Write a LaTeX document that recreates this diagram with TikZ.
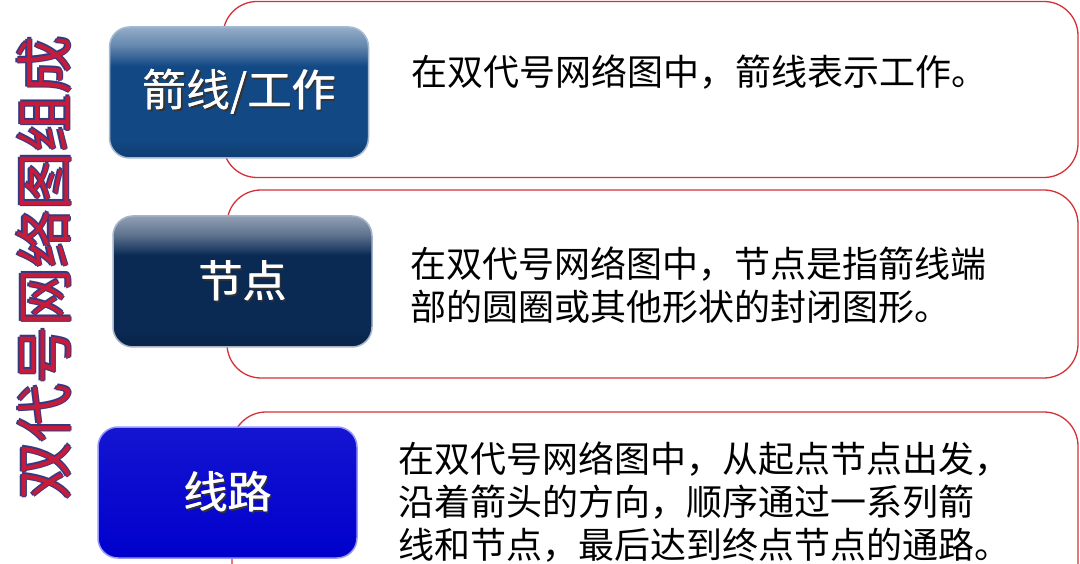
\documentclass[tikz,border=0pt]{standalone}
\usepackage{fontspec}
\usepackage{xcolor}
\usepackage{tikz}
\usetikzlibrary{positioning}

\newfontfamily\cjk{Noto Sans CJK SC}

\definecolor{navyA}{RGB}{18,72,132}
\definecolor{navyB}{RGB}{10,42,84}
\definecolor{blueC}{RGB}{0,0,205}
\definecolor{panelred}{RGB}{212,48,56}
\definecolor{ttlred}{RGB}{196,28,58}
\definecolor{ttlblue}{RGB}{52,58,130}

% glossy shadings for the buttons
\pgfdeclareverticalshading{glossA}{100bp}{color(0bp)=(navyA!85!black); color(25bp)=(navyA!85!black); color(32bp)=(navyA); color(60bp)=(navyA); color(68bp)=(navyA!65!white); color(75bp)=(navyA!45!white); color(100bp)=(navyA!45!white)}
\pgfdeclareverticalshading{glossB}{100bp}{color(0bp)=(navyB!85!black); color(25bp)=(navyB!85!black); color(32bp)=(navyB); color(60bp)=(navyB); color(68bp)=(navyB!65!white); color(75bp)=(navyB!45!white); color(100bp)=(navyB!45!white)}

\newcommand\btntxt[1]{\leavevmode\rlap{\hspace{2pt}\raisebox{-2pt}{\color{black!80}#1}}%
  \rlap{\hspace{.6pt}#1}#1}
\newcommand\ttltxt[1]{\leavevmode
  \rlap{\color{ttlblue}\hspace{-1.3pt}#1}\rlap{\color{ttlblue}\hspace{1.3pt}#1}%
  \rlap{\color{ttlblue}\raisebox{1.3pt}{#1}}\rlap{\color{ttlblue}\raisebox{-1.3pt}{#1}}#1}

\begin{document}
\begin{tikzpicture}[
    x=1pt, y=-1pt,
    node distance=40pt,
    panel/.style={rectangle, rounded corners=34pt, draw=panelred, line width=1.3pt, fill=white},
    button/.style={rectangle, rounded corners=20pt, minimum width=259pt, minimum height=131pt, line width=1.5pt, text=white, font=\cjk\fontsize{44}{50}\selectfont},
    desc/.style={inner sep=0pt, align=left, font=\cjk\fontsize{36}{43}\selectfont},
    title/.style={rotate=90, text=ttlred, font=\cjk\fontsize{58}{60}\selectfont}
]
    \useasboundingbox (0,0) rectangle (1080,564);

    % Panels
    \node[panel, minimum width=855pt, minimum height=176pt] (P1) at (650.5,89.5) {};
    \node[panel, minimum width=851pt, minimum height=188pt] (P2) at (652.5,284) {};
    \node[panel, minimum width=846pt, minimum height=188pt] (P3) at (655,506) {};

    % Buttons
    \node[button, shading=glossA, draw={rgb,255:red,165;green,185;blue,210}] (B1) at (239,92.5) {\btntxt{箭线/工作}};
    \node[button, shading=glossB, draw={rgb,255:red,165;green,180;blue,200}] (B2) at (242.5,281.5) {\btntxt{节点}};
    \node[button, top color=blueC!92!white, bottom color=blueC, draw={rgb,255:red,150;green,150;blue,255}] (B3) at (227.5,492.5) {\btntxt{线路}};

    % Texts
    \node[desc, right=42pt of B1, yshift=20pt] (T1) {在双代号网络图中，箭线表示工作。};
    \node[desc, right=38pt of B2, yshift=-4pt] (T2) {在双代号网络图中，节点是指箭线端\\部的圆圈或其他形状的封闭图形。};
    \node[desc, right=41pt of B3, yshift=-10pt] (T3) {在双代号网络图中，从起点节点出发，\\沿着箭头的方向，顺序通过一系列箭\\线和节点，最后达到终点节点的通路。};

    % Title
    \node[title] (TT) at (44,268) {\ttltxt{双代号网络图组成}};
\end{tikzpicture}
\end{document}
